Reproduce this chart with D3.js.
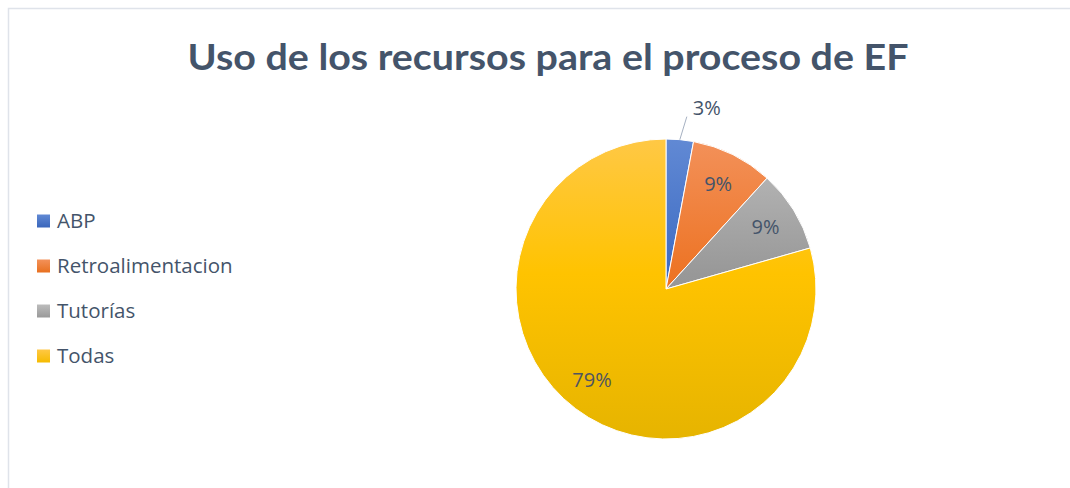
<!DOCTYPE html>
<html>
<head>
<meta charset="utf-8">
<script src="https://cdn.jsdelivr.net/npm/d3@7"></script>
<style>
  html, body { margin: 0; padding: 0; background: #ffffff; }
  svg { display: block; }
</style>
</head>
<body>
<svg id="chart" width="1070" height="488"></svg>
<script>
const title = "Uso de los recursos para el proceso de EF";
const categories = ["ABP", "Retroalimentacion", "Tutorías", "Todas"];
const values = [1, 3, 3, 27];
const colorsTop = ["#6189d4", "#f3915a", "#bcbcbc", "#ffc845"];
const colorsMid = ["#3e6cc3", "#ed7425", "#989898", "#ffc300"];
const colorsBottom = ["#2c59ad", "#d9661a", "#858585", "#e6b400"];
const legendSwatch = ["#3a66bb", "#e8701f", "#999999", "#f5bb00"];

const W = 1070, H = 488;
const svg = d3.select("#chart");
const cx = 666, cy = 289, r = 150;
const textColor = "#44546a";

// chart area border
svg.append("rect")
  .attr("x", 8.5).attr("y", 8.5)
  .attr("width", W + 10).attr("height", H + 10)
  .attr("fill", "#fff")
  .attr("stroke", "#dfe3ea").attr("stroke-width", 1.5);

// title
svg.append("text")
  .attr("x", 548).attr("y", 70)
  .attr("text-anchor", "middle")
  .attr("font-family", "Lato, 'Open Sans', sans-serif")
  .attr("font-weight", "bold")
  .attr("font-size", 36)
  .attr("fill", textColor)
  .attr("textLength", 721)
  .attr("lengthAdjust", "spacingAndGlyphs")
  .text(title);

// gradients (in the pie group's local coordinates)
const defs = svg.append("defs");
categories.forEach((c, i) => {
  const g = defs.append("linearGradient")
    .attr("id", "grad" + i)
    .attr("gradientUnits", "userSpaceOnUse")
    .attr("x1", 0).attr("x2", 0)
    .attr("y1", -r).attr("y2", r);
  g.append("stop").attr("offset", 0).attr("stop-color", colorsTop[i]);
  g.append("stop").attr("offset", 0.45).attr("stop-color", colorsMid[i]);
  g.append("stop").attr("offset", 1).attr("stop-color", colorsBottom[i]);
});

// pie
const total = d3.sum(values);
const pie = d3.pie().sort(null).value(d => d)(values);
const arc = d3.arc().innerRadius(0).outerRadius(r);
const g = svg.append("g").attr("transform", `translate(${cx},${cy})`);
g.selectAll("path").data(pie).enter().append("path")
  .attr("d", arc)
  .attr("fill", (d, i) => `url(#grad${i})`)
  .attr("stroke", "#ffffff")
  .attr("stroke-width", 1);

// labels
const fmt = v => Math.round(v / total * 100) + "%";
const labelArc = d3.arc().innerRadius(r * 0.78).outerRadius(r * 0.78);
pie.forEach((d, i) => {
  let x, y;
  if (i === 0) {
    const mid = (d.startAngle + d.endAngle) / 2;
    const px = Math.sin(mid) * r, py = -Math.cos(mid) * r;
    g.append("line")
      .attr("x1", px).attr("y1", py)
      .attr("x2", px + 7).attr("y2", py - 23)
      .attr("stroke", "#a6b1c2").attr("stroke-width", 1);
    x = px + 27; y = py - 32;
  } else if (i === 3) {
    x = -74; y = 91;
  } else {
    [x, y] = labelArc.centroid(d);
  }
  g.append("text")
    .attr("x", x).attr("y", y)
    .attr("dy", "0.35em")
    .attr("text-anchor", "middle")
    .attr("font-family", "'Open Sans', sans-serif")
    .attr("font-size", 20)
    .attr("fill", i === 3 ? "#4f5560" : textColor)
    .text(fmt(d.value));
});

// legend
const legend = svg.append("g");
const ly = d3.scalePoint().domain(categories).range([221, 356]);
categories.forEach((c, i) => {
  const lg = defs.append("linearGradient").attr("id", "lg" + i)
    .attr("x1", 0).attr("x2", 0).attr("y1", 0).attr("y2", 1);
  lg.append("stop").attr("offset", 0).attr("stop-color", colorsTop[i]);
  lg.append("stop").attr("offset", 1).attr("stop-color", legendSwatch[i]);
  legend.append("rect")
    .attr("x", 37).attr("y", ly(c) - 6.5)
    .attr("width", 13).attr("height", 13)
    .attr("fill", `url(#lg${i})`);
  legend.append("text")
    .attr("x", 57).attr("y", ly(c))
    .attr("dy", "0.35em")
    .attr("font-family", "'Open Sans', sans-serif")
    .attr("font-size", 20.5)
    .attr("fill", textColor)
    .text(c);
});
</script>
</body>
</html>
